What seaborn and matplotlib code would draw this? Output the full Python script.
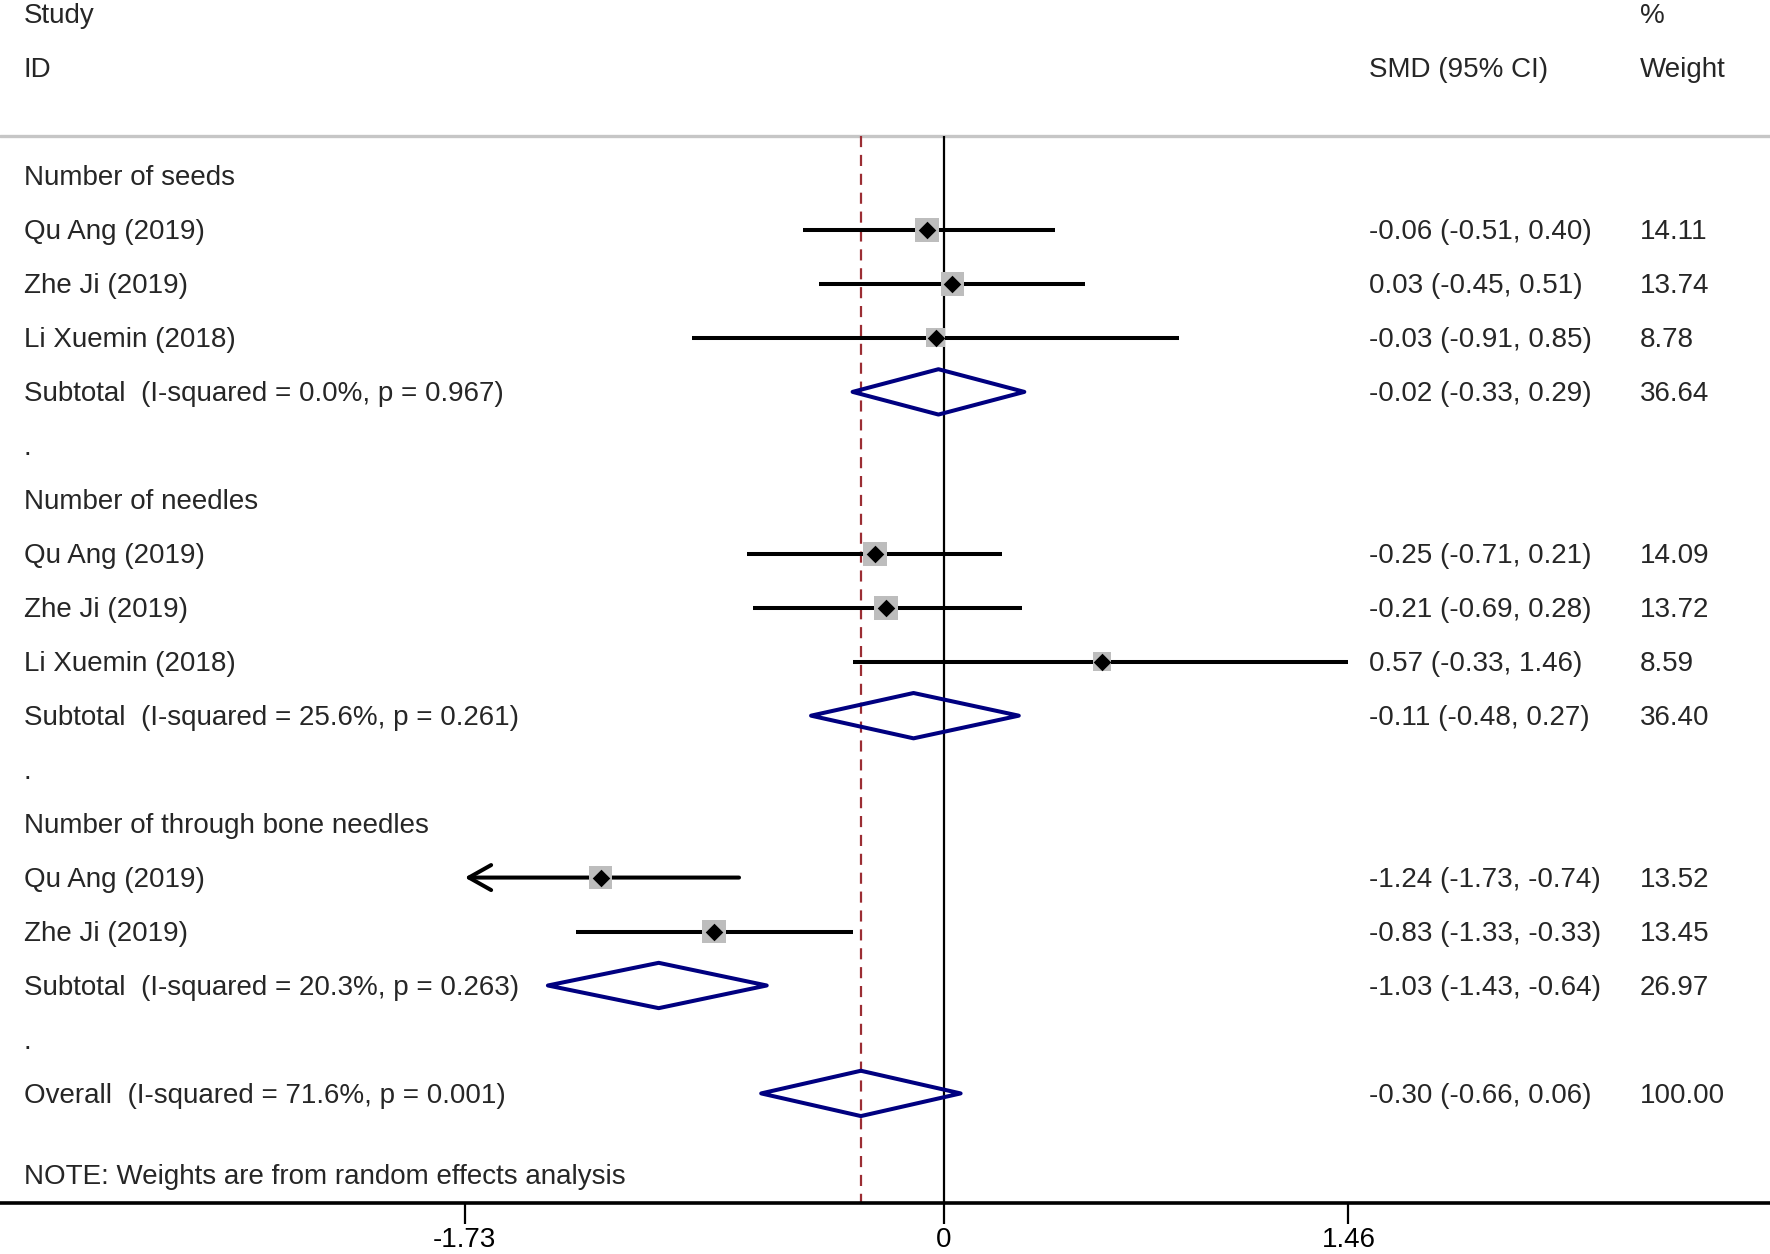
"""Forest plot: SMD by subgroup (random effects), Stata-style layout."""

import matplotlib

matplotlib.use("Agg")
import matplotlib.pyplot as plt
import numpy as np
import pandas as pd
import seaborn as sns

# --- data ---
groups = ["Number of seeds", "Number of needles", "Number of through bone needles"]

study_group = [0, 0, 0, 1, 1, 1, 2, 2]
study_name = ["Qu Ang (2019)", "Zhe Ji (2019)", "Li Xuemin (2018)",
              "Qu Ang (2019)", "Zhe Ji (2019)", "Li Xuemin (2018)",
              "Qu Ang (2019)", "Zhe Ji (2019)"]
study_est = [-0.06, 0.03, -0.03, -0.25, -0.21, 0.57, -1.24, -0.83]
study_lo = [-0.51, -0.45, -0.91, -0.71, -0.69, -0.33, -1.73, -1.33]
study_hi = [0.40, 0.51, 0.85, 0.21, 0.28, 1.46, -0.74, -0.33]
study_wt = [14.11, 13.74, 8.78, 14.09, 13.72, 8.59, 13.52, 13.45]

sub_est = [-0.02, -0.11, -1.03]
sub_lo = [-0.33, -0.48, -1.43]
sub_hi = [0.29, 0.27, -0.64]
sub_wt = [36.64, 36.40, 26.97]
sub_i2 = [0.0, 25.6, 20.3]
sub_p = [0.967, 0.261, 0.263]

overall = dict(est=-0.30, lo=-0.66, hi=0.06, wt=100.00, i2=71.6, p=0.001)

xticks = [-1.73, 0, 1.46]

# --- layout ---
sns.set_style("white")
plt.rcParams["font.family"] = ["Liberation Sans", "DejaVu Sans"]
FS = 20
X_LABEL, X_EST, X_WT = -3.322, 1.535, 2.513
XLIM = (-3.408, 2.982)
YLIM = (19.03, -3.262)
DY = 0.04  # nudge text down a touch so it centres like the original
NAVY = "#000080"
LW = 2.9

fig = plt.figure(figsize=(17.7, 12.54), dpi=100)
ax = fig.add_axes([0, 0.0407, 1, 0.9593])


def txt(x, y, s):
    ax.text(x, y + DY, s, fontsize=FS, va="center")


def ci_text(e, lo, hi):
    return f"{e:.2f} ({lo:.2f}, {hi:.2f})"


def diamond(y, e, lo, hi, h=0.42):
    ax.fill([lo, e, hi, e], [y, y - h, y, y + h], fill=False, closed=True,
            edgecolor=NAVY, linewidth=LW, joinstyle="round", zorder=4)


row = 0
study_rows = []
for g, gname in enumerate(groups):
    txt(X_LABEL, row, gname)
    row += 1
    for i in [k for k, sg in enumerate(study_group) if sg == g]:
        txt(X_LABEL, row, study_name[i])
        txt(X_EST, row, ci_text(study_est[i], study_lo[i], study_hi[i]))
        txt(X_WT, row, f"{study_wt[i]:.2f}")
        study_rows.append(row)
        row += 1
    txt(X_LABEL, row, f"Subtotal  (I-squared = {sub_i2[g]:.1f}%, p = {sub_p[g]:.3f})")
    txt(X_EST, row, ci_text(sub_est[g], sub_lo[g], sub_hi[g]))
    txt(X_WT, row, f"{sub_wt[g]:.2f}")
    diamond(row, sub_est[g], sub_lo[g], sub_hi[g])
    row += 1
    txt(X_LABEL, row, ".")
    row += 1

txt(X_LABEL, row, f"Overall  (I-squared = {overall['i2']:.1f}%, p = {overall['p']:.3f})")
txt(X_EST, row, ci_text(overall["est"], overall["lo"], overall["hi"]))
txt(X_WT, row, f"{overall['wt']:.2f}")
diamond(row, overall["est"], overall["lo"], overall["hi"])
txt(X_LABEL, row + 1.5, "NOTE: Weights are from random effects analysis")

# headers
txt(X_LABEL, -3.0, "Study")
txt(X_LABEL, -2.0, "ID")
txt(X_EST, -2.0, "SMD (95% CI)")
txt(X_WT, -3.0, "%")
txt(X_WT, -2.0, "Weight")
ax.axhline(-0.75, color="#c6c6c6", linewidth=2.4, zorder=1)

# reference lines
ax.vlines(0, -0.75, YLIM[0], color="black", linewidth=1.6, zorder=1)
ax.vlines(overall["est"], -0.75, YLIM[0], color="#9b2d33", linewidth=1.6,
          linestyles=(0, (5, 3.5)), zorder=1)

# confidence intervals (arrow when clipped at the axis limit)
df = pd.DataFrame(dict(est=study_est, lo=study_lo, hi=study_hi,
                       wt=study_wt, row=study_rows))
for _, r in df.iterrows():
    if r.lo <= min(xticks):
        ax.annotate("", xy=(min(xticks), r.row), xytext=(r.hi, r.row),
                    arrowprops=dict(arrowstyle="->,head_length=0.8,head_width=0.45",
                                    lw=LW, color="black", shrinkA=0, shrinkB=0,
                                    mutation_scale=20), zorder=2)
    else:
        ax.hlines(r.row, r.lo, min(r.hi, max(xticks)), color="black",
                  linewidth=LW, zorder=2)

sns.scatterplot(data=df, x="est", y="row", marker="s", s=df["wt"].to_numpy() * 21,
                color="#bdbdbd", linewidth=0, ax=ax, legend=False, zorder=3)
sns.scatterplot(data=df, x="est", y="row", marker="D", s=80, color="black",
                linewidth=0, ax=ax, legend=False, zorder=5)

ax.set_xlim(*XLIM)
ax.set_ylim(*YLIM)
ax.set_xticks(xticks)
ax.set_xticklabels(["-1.73", "0", "1.46"])
ax.set_yticks([])
ax.set_xlabel("")
ax.set_ylabel("")
for s in ["top", "left", "right"]:
    ax.spines[s].set_visible(False)
ax.spines["bottom"].set_linewidth(2.6)
ax.spines["bottom"].set_color("black")
ax.tick_params(axis="x", direction="out", length=15, width=1.6, labelsize=FS,
               pad=2, bottom=True, colors="black")

fig.savefig("out.png", dpi=100)
